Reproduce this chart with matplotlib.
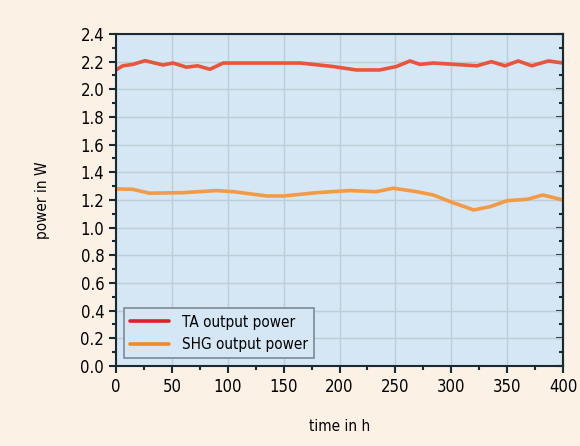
import matplotlib
matplotlib.use("Agg")
import matplotlib.pyplot as plt
from matplotlib.ticker import MultipleLocator

# values
ta_h = [0, 6, 15, 26, 42, 51, 63, 73, 84, 96, 125, 165, 194, 215, 236, 251, 263,
        272, 284, 323, 336, 348, 360, 372, 387, 400]
ta_w = [2.14, 2.17, 2.18, 2.207, 2.176, 2.19, 2.16, 2.17, 2.145, 2.19, 2.19, 2.19,
        2.165, 2.14, 2.14, 2.165, 2.205, 2.18, 2.19, 2.17, 2.2, 2.17, 2.205, 2.17,
        2.205, 2.19]
shg_h = [0, 15, 30, 60, 90, 105, 135, 150, 180, 209, 233, 248, 269, 284, 299, 320,
         335, 350, 368, 382, 400]
shg_w = [1.28, 1.277, 1.249, 1.253, 1.268, 1.26, 1.229, 1.229, 1.253, 1.268, 1.26,
         1.285, 1.26, 1.236, 1.188, 1.128, 1.152, 1.195, 1.205, 1.236, 1.2]

plt.rcParams['font.family'] = ['DejaVu Sans']
plt.rcParams['font.stretch'] = 'condensed'

fig = plt.figure(figsize=(5.8, 4.46), dpi=100, facecolor="#fbf1e5")
ax = fig.add_axes([0.2, 0.1794, 0.7707, 0.7444])
ax.set_facecolor("#d5e6f4")

ax.plot(ta_h, ta_w, color="#e8553c", lw=2.6, solid_capstyle="round", label="TA output power")
ax.plot(shg_h, shg_w, color="#f39a45", lw=2.6, solid_capstyle="round", label="SHG output power")

ax.set_xlim(0, 400)
ax.set_ylim(0, 2.4)
ax.xaxis.set_major_locator(MultipleLocator(50))
ax.xaxis.set_minor_locator(MultipleLocator(25))
ax.yaxis.set_major_locator(MultipleLocator(0.2))
ax.yaxis.set_minor_locator(MultipleLocator(0.1))
ax.yaxis.set_major_formatter(matplotlib.ticker.FormatStrFormatter("%.1f"))
ax.grid(True, which="major", color="#bfcdd8", lw=1)
ax.set_axisbelow(True)

ax.tick_params(axis="both", which="both", direction="out", labelsize=12, color="#1a2a33", width=1.5)
ax.tick_params(which="major", length=5)
ax.tick_params(which="minor", length=3)
for spine in ax.spines.values():
    spine.set_color("#1a2a33")
    spine.set_linewidth(1.5)

# right side: inward ticks, no labels
sec = ax.secondary_yaxis("right")
sec.yaxis.set_major_locator(MultipleLocator(0.2))
sec.yaxis.set_minor_locator(MultipleLocator(0.1))
sec.tick_params(which="both", direction="in", labelright=False, color="#1a2a33", width=1.5)
sec.tick_params(which="major", length=5)
sec.tick_params(which="minor", length=3)
sec.spines["right"].set_color("#1a2a33")
sec.spines["right"].set_linewidth(1.5)

ax.set_xlabel("time in h", fontsize=11, labelpad=17)
ax.set_ylabel("power in W", fontsize=11, labelpad=22)

leg = ax.legend(loc="lower left", fontsize=11, frameon=True, fancybox=False,
                borderaxespad=0.5, handlelength=2.6, handletextpad=0.8,
                labelspacing=0.5)
leg.get_frame().set_edgecolor("#7a8a96")
leg.get_frame().set_facecolor("#d5e6f4")
leg.get_frame().set_linewidth(1.2)
leg.get_frame().set_alpha(1)
leg.get_lines()[0].set_color("#e3202a")
leg.get_lines()[1].set_color("#f08a26")

fig.savefig("out.png", dpi=100, facecolor=fig.get_facecolor())
